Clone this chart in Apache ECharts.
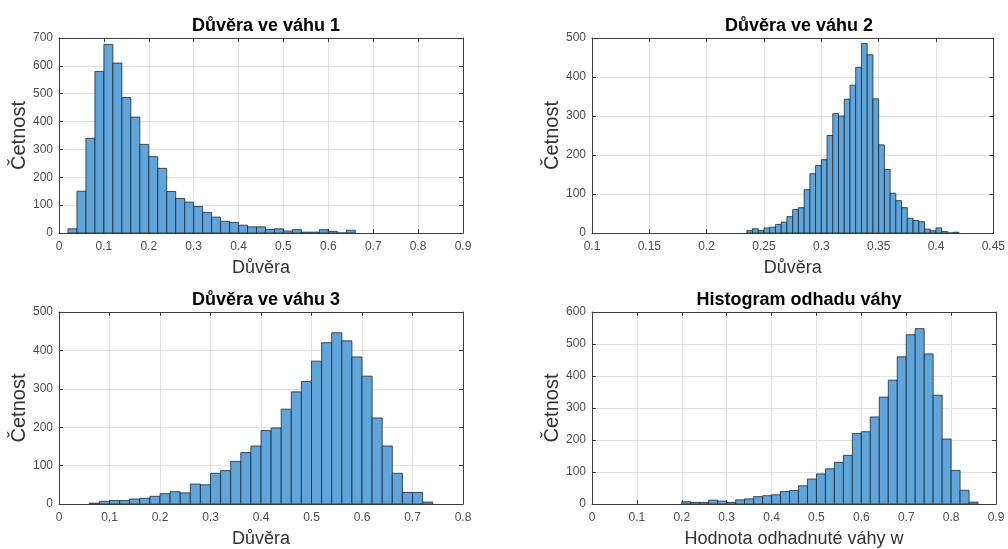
<!DOCTYPE html>
<html>
<head>
<meta charset="utf-8">
<script src="https://cdn.jsdelivr.net/npm/echarts@6/dist/echarts.min.js"></script>
<style>
  html, body { margin: 0; padding: 0; background: #fff; }
  #chart { width: 1008px; height: 549px; }
</style>
</head>
<body>
<div id="chart"></div>
<script>
// četnosti v jednotlivých binech
const start1 = 0.02, width1 = 0.02;
const counts1 = [15, 150, 340, 580, 677, 610, 486, 416, 318, 274, 232, 149, 124, 111, 95, 74,
    57, 42, 38, 28, 22, 22, 13, 15, 7, 12, 3, 3, 12, 6, 0, 10];

const start2 = 0.235, width2 = 0.005;
const counts2 = [6, 11, 6, 13, 15, 22, 28, 42, 60, 65, 111, 152, 173, 188, 250, 306, 300, 343,
    379, 425, 486, 457, 344, 226, 163, 102, 83, 65, 38, 32, 29, 10, 6, 13, 4, 0, 2];

const start3 = 0.06, width3 = 0.02;
const counts3 = [2, 7, 9, 9, 13, 15, 20, 27, 32, 29, 52, 50, 80, 87, 111, 134, 151, 191, 198,
    247, 292, 319, 372, 420, 446, 425, 383, 333, 224, 151, 80, 30, 30, 5];

const start4 = 0.20, width4 = 0.02;
const counts4 = [7, 5, 5, 12, 9, 5, 13, 16, 23, 26, 29, 39, 42, 57, 78, 94, 110, 130, 152, 220,
    226, 272, 334, 387, 460, 529, 548, 469, 340, 203, 105, 43, 6];

const titles = ['Důvěra ve váhu 1', 'Důvěra ve váhu 2', 'Důvěra ve váhu 3', 'Histogram odhadu váhy'];
const xNames = ['Důvěra', 'Důvěra', 'Důvěra', 'Hodnota odhadnuté váhy w'];
const yName = 'Četnost';

const panels = [
    { start: start1, width: width1, counts: counts1, xMin: 0, xMax: 0.9, xStep: 0.1, yMax: 700 },
    { start: start2, width: width2, counts: counts2, xMin: 0.1, xMax: 0.45, xStep: 0.05, yMax: 500 },
    { start: start3, width: width3, counts: counts3, xMin: 0, xMax: 0.8, xStep: 0.1, yMax: 500 },
    { start: start4, width: width4, counts: counts4, xMin: 0, xMax: 0.9, xStep: 0.1, yMax: 600 }
];

// rozložení os
const grids = [
    { left: 59, top: 38, width: 404, height: 195 },
    { left: 592, top: 38, width: 404, height: 195 },
    { left: 59, top: 312, width: 404, height: 194 },
    { left: 592, top: 312, width: 404, height: 194 }
];

const font = 'Liberation Sans, Arial, sans-serif';
const axisColor = '#3d3d3d';

function binData(p) {
    return p.counts.map(function (c, i) {
        let a = +(p.start + i * p.width).toFixed(4);
        let b = +(p.start + (i + 1) * p.width).toFixed(4);
        return [a, b, c];
    });
}

function renderItem(params, api) {
    let p0 = api.coord([api.value(0), api.value(2)]);
    let p1 = api.coord([api.value(1), 0]);
    return {
        type: 'rect',
        shape: { x: p0[0], y: p0[1], width: p1[0] - p0[0], height: p1[1] - p0[1] },
        style: { fill: '#5fa5d9', stroke: '#1c2a36', lineWidth: 0.8 }
    };
}

let xAxes = [], yAxes = [], series = [], titleList = [];

panels.forEach(function (p, i) {
    let g = grids[i];
    // spodní osa x s popisky
    xAxes.push({
        type: 'value', gridIndex: i, position: 'bottom',
        min: p.xMin, max: p.xMax, interval: p.xStep,
        name: xNames[i], nameLocation: 'middle', nameGap: 26,
        nameTextStyle: { fontFamily: font, fontSize: 18, color: '#333' },
        axisLine: { show: true, onZero: false, lineStyle: { color: axisColor, width: 1 } },
        axisTick: { show: true, inside: true, length: 4, lineStyle: { color: axisColor } },
        axisLabel: { fontFamily: font, fontSize: 12, color: '#4d4d4d', margin: 8 },
        splitLine: { show: true, lineStyle: { color: '#e2e2e2', width: 1 } }
    });
    // horní osa x jen s ryskami
    xAxes.push({
        type: 'value', gridIndex: i, position: 'top',
        min: p.xMin, max: p.xMax, interval: p.xStep,
        axisLine: { show: true, onZero: false, lineStyle: { color: axisColor, width: 1 } },
        axisTick: { show: true, inside: true, length: 4, lineStyle: { color: axisColor } },
        axisLabel: { show: false },
        splitLine: { show: false }
    });
    yAxes.push({
        type: 'value', gridIndex: i, position: 'left',
        min: 0, max: p.yMax, interval: 100,
        name: yName, nameLocation: 'middle', nameGap: 30,
        nameTextStyle: { fontFamily: font, fontSize: 20, color: '#333' },
        axisLine: { show: true, onZero: false, lineStyle: { color: axisColor, width: 1 } },
        axisTick: { show: true, inside: true, length: 4, lineStyle: { color: axisColor } },
        axisLabel: { fontFamily: font, fontSize: 12, color: '#4d4d4d', margin: 6 },
        splitLine: { show: true, lineStyle: { color: '#e2e2e2', width: 1 } }
    });
    yAxes.push({
        type: 'value', gridIndex: i, position: 'right',
        min: 0, max: p.yMax, interval: 100,
        axisLine: { show: true, onZero: false, lineStyle: { color: axisColor, width: 1 } },
        axisTick: { show: true, inside: true, length: 4, lineStyle: { color: axisColor } },
        axisLabel: { show: false },
        splitLine: { show: false }
    });
    series.push({
        type: 'custom',
        xAxisIndex: 2 * i,
        yAxisIndex: 2 * i,
        renderItem: renderItem,
        encode: { x: [0, 1], y: 2 },
        clip: true,
        data: binData(p)
    });
    titleList.push({
        text: titles[i],
        left: g.left + g.width / 2,
        top: g.top - 26,
        textAlign: 'center',
        textStyle: { fontFamily: font, fontSize: 18, fontWeight: 'bold', color: '#000' }
    });
});

let option = {
    animation: false,
    backgroundColor: '#fff',
    title: titleList,
    grid: grids,
    xAxis: xAxes,
    yAxis: yAxes,
    series: series
};

var myChart = echarts.init(document.getElementById('chart'));
myChart.setOption(option, true);
</script>
</body>
</html>
